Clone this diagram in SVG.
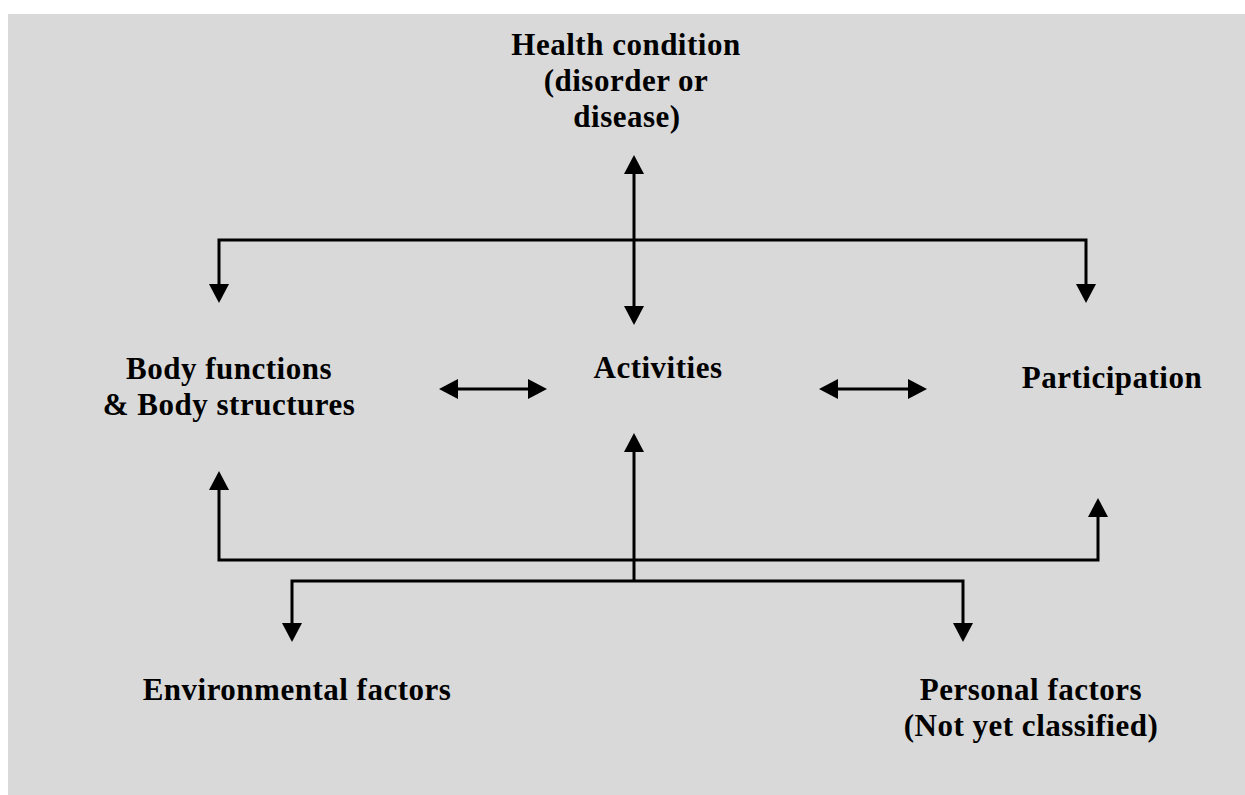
<svg xmlns="http://www.w3.org/2000/svg" width="1245" height="795" viewBox="0 0 1245 795">
<style>
  .t { font-family: "Liberation Serif", "Times New Roman", serif; font-weight: bold; font-size: 31px; letter-spacing: 0.5px; fill: #000; text-anchor: middle; }
  .c { fill: none; stroke: #000; stroke-width: 3; }
</style>
<defs>
  <marker id="ah" viewBox="0 0 19 20" markerWidth="19" markerHeight="20" refX="0" refY="10" orient="auto-start-reverse" markerUnits="userSpaceOnUse">
    <path d="M0,0 L19,10 L0,20 Z" fill="#000"/>
  </marker>
</defs>
<rect x="8" y="14" width="1237" height="781" fill="#d9d9d9"/>
<g id="connectors">
  <path class="c" d="M219,284 V240 H1086 V284" marker-start="url(#ah)" marker-end="url(#ah)"/>
  <path class="c" d="M634,174 V306" marker-start="url(#ah)" marker-end="url(#ah)"/>
  <path class="c" d="M458,389 H528" marker-start="url(#ah)" marker-end="url(#ah)"/>
  <path class="c" d="M838,389 H908" marker-start="url(#ah)" marker-end="url(#ah)"/>
  <path class="c" d="M219,490 V560 H1098 V517" marker-start="url(#ah)" marker-end="url(#ah)"/>
  <path class="c" d="M634,581 V452" marker-end="url(#ah)"/>
  <path class="c" d="M292,623 V581 H963 V623" marker-start="url(#ah)" marker-end="url(#ah)"/>
</g>
<g id="health">
  <text class="t" x="626" y="55">Health condition</text>
  <text class="t" x="626" y="91">(disorder or</text>
  <text class="t" x="627" y="127">disease)</text>
</g>
<g id="body">
  <text class="t" x="229" y="379">Body functions</text>
  <text class="t" x="229" y="415">&amp; Body structures</text>
</g>
<g id="activities">
  <text class="t" x="658" y="378">Activities</text>
</g>
<g id="participation">
  <text class="t" x="1112" y="388">Participation</text>
</g>
<g id="environmental">
  <text class="t" x="297" y="700">Environmental factors</text>
</g>
<g id="personal">
  <text class="t" x="1031" y="700">Personal factors</text>
  <text class="t" x="1031" y="736">(Not yet classified)</text>
</g>
</svg>
